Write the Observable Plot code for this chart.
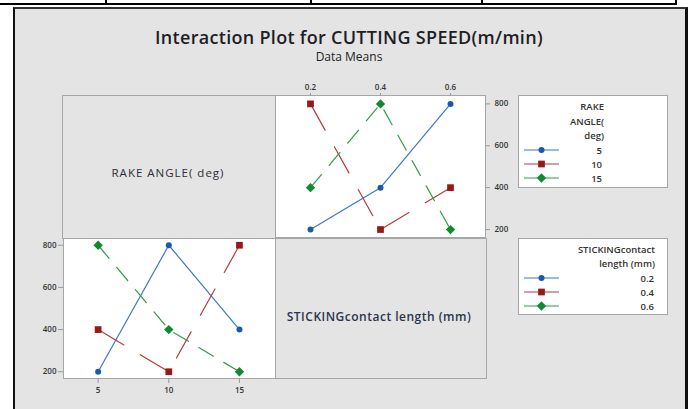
<!DOCTYPE html>
<html>
<head>
<meta charset="utf-8">
<script src="https://cdn.jsdelivr.net/npm/d3@7"></script>
<script src="https://cdn.jsdelivr.net/npm/@observablehq/plot@0.6"></script>
<style>
  html, body { margin: 0; padding: 0; background: white; }
  #root { position: relative; width: 689px; height: 409px; overflow: hidden; background: white; font-family: "Open Sans", "Noto Sans", sans-serif; color: #2e2e38; }
  .abs { position: absolute; }
  .hline { position: absolute; background: #000; }
  #panel { position: absolute; left: 13px; top: 7px; width: 670px; height: 410px; background: #e4e4e4;
           border-left: 2px solid #111; border-top: 2px solid #333; border-right: 3px solid #111; }
  .labelbox { position: absolute; background: #e4e4e4; border: 1px solid #a6a6a6; box-sizing: border-box; }
  .legend { position: absolute; background: #fff; border: 1px solid #a6a6a6; box-sizing: border-box; }
  .txt { position: absolute; white-space: nowrap; }
</style>
</head>
<body>
<div id="root">
  <div class="hline" style="left:0;top:3px;width:677px;height:2px"></div>
  <div class="hline" style="left:105px;top:0;width:2px;height:5px"></div>
  <div class="hline" style="left:310px;top:0;width:2px;height:5px"></div>
  <div class="hline" style="left:481px;top:0;width:2px;height:5px"></div>
  <div class="hline" style="left:675px;top:0;width:2px;height:5px"></div>
  <div id="panel"></div>
  <div class="txt" id="title" style="left:349px;top:25px;transform:translateX(-50%);font-size:18px;letter-spacing:0.3px;font-weight:600;color:#1e1e24"></div>
  <div class="txt" id="subtitle" style="left:349px;top:48px;transform:translateX(-50%);font-size:12px;color:#1e1e24"></div>
  <div class="labelbox" style="left:62px;top:95px;width:214px;height:144px"></div>
  <div class="labelbox" style="left:275px;top:238px;width:212px;height:141px"></div>
  <div class="txt" id="lab1" style="left:168px;top:165px;transform:translateX(-50%);font-size:11.5px;letter-spacing:1px;"></div>
  <div class="txt" id="lab2" style="left:379px;top:308px;transform:translateX(-50%);font-size:12px;letter-spacing:0.5px;font-weight:600;color:#2a3450"></div>
  <div id="tr" class="abs" style="left:262px;top:75px"></div>
  <div id="bl" class="abs" style="left:20px;top:228px"></div>
  <div class="legend" id="leg1" style="left:518px;top:95px;width:150px;height:93px"></div>
  <div class="legend" id="leg2" style="left:518px;top:238px;width:150px;height:77px"></div>
</div>
<script>
// ---- data ----
const titleText = "Interaction Plot for CUTTING SPEED(m/min)";
const subtitleText = "Data Means";
const rakeName = "RAKE ANGLE( deg)";
const stickName = "STICKINGcontact length (mm)";
const rakeLevels = [5, 10, 15];
const stickLevels = [0.2, 0.4, 0.6];
const rakeTickLabels = ["5", "10", "15"];
const stickTickLabels = ["0.2", "0.4", "0.6"];
const yTicks = [200, 400, 600, 800];
// means vs sticking contact length (0.2, 0.4, 0.6), one series per rake angle
const rake5 = [200, 400, 800];
const rake10 = [800, 200, 400];
const rake15 = [400, 800, 200];
// means vs rake angle (5, 10, 15), one series per sticking contact length
const stick02 = [200, 800, 400];
const stick04 = [400, 200, 800];
const stick06 = [800, 400, 200];

// ---- styles ----
const seriesStyle = [
  {line: "#3d78c2", mark: "#1c5aa8", symbol: "circle", r: 3, dash: null},
  {line: "#b43c3c", mark: "#981818", symbol: "square", r: 3.8, dash: "30,19"},
  {line: "#2f9e4a", mark: "#108a30", symbol: "diamond2", r: 4.2, dash: "17,12"}
];

document.getElementById("title").textContent = titleText;
document.getElementById("subtitle").textContent = subtitleText;
document.getElementById("lab1").textContent = rakeName;
document.getElementById("lab2").textContent = stickName;

function panelMarks(xs, seriesList) {
  const marks = [];
  seriesList.forEach((vals, i) => {
    const st = seriesStyle[i];
    const rows = xs.map((x, j) => ({x, y: vals[j]}));
    marks.push(Plot.line(rows, {x: "x", y: "y", stroke: st.line, strokeWidth: 1.2, strokeDasharray: st.dash ?? undefined}));
  });
  seriesList.forEach((vals, i) => {
    const st = seriesStyle[i];
    const rows = xs.map((x, j) => ({x, y: vals[j]}));
    marks.push(Plot.dot(rows, {x: "x", y: "y", symbol: () => st.symbol, fill: st.mark, stroke: "none", r: st.r}));
  });
  return marks;
}

const axisStyle = {fontFamily: "Open Sans, sans-serif", fontSize: "8px", fontWeight: 600, color: "#333", background: "transparent", overflow: "visible"};

// Top-right: x = sticking contact length, series = rake angle
const tr = Plot.plot({
  width: 260, height: 175,
  marginLeft: 13, marginTop: 20, marginRight: 37, marginBottom: 13,
  style: axisStyle,
  x: {domain: [0.1, 0.7], axis: null},
  y: {domain: [162, 840], axis: null},
  symbol: {type: "identity"},
  marks: [
    Plot.frame({fill: "white", stroke: "#a6a6a6"}),
    Plot.axisX({anchor: "top", ticks: stickLevels, tickFormat: (d, i) => stickTickLabels[i], tickSize: 3, tickPadding: 3, stroke: "#999", fill: "#333", label: null}),
    Plot.axisY({anchor: "right", ticks: yTicks, tickSize: 4, tickPadding: 5, stroke: "#999", fill: "#333", label: null}),
    ...panelMarks(stickLevels, [rake5, rake10, rake15])
  ]
});
document.getElementById("tr").appendChild(tr);

// Bottom-left: x = rake angle, series = sticking contact length
const bl = Plot.plot({
  width: 265, height: 175,
  marginLeft: 43, marginTop: 10, marginRight: 10, marginBottom: 25,
  style: axisStyle,
  x: {domain: [2.55, 17.55], axis: null},
  y: {domain: [168, 832], axis: null},
  symbol: {type: "identity"},
  marks: [
    Plot.frame({fill: "white", stroke: "#a6a6a6"}),
    Plot.axisX({anchor: "bottom", ticks: rakeLevels, tickFormat: (d, i) => rakeTickLabels[i], tickSize: 5, tickPadding: 4, stroke: "#999", fill: "#333", label: null}),
    Plot.axisY({anchor: "left", ticks: yTicks, tickSize: 5, tickPadding: 2, stroke: "#999", fill: "#333", label: null}),
    ...panelMarks(rakeLevels, [stick02, stick04, stick06])
  ]
});
document.getElementById("bl").appendChild(bl);

// Legends
function legend(el, titleLines, titleRight, titleTops, labels, labelRight, labelTops) {
  const ns = "http://www.w3.org/2000/svg";
  const box = document.getElementById(el);
  const bx = 518, by = parseFloat(box.style.top);
  titleLines.forEach((t, i) => {
    const d = document.createElement("div");
    d.className = "txt";
    d.style.cssText = `right:${bx + 150 - titleRight}px;top:${titleTops[i] - by - 7}px;font-size:9.5px;font-weight:600;color:#333;line-height:14px`;
    d.textContent = t;
    box.appendChild(d);
  });
  labels.forEach((t, i) => {
    const d = document.createElement("div");
    d.className = "txt";
    d.style.cssText = `right:${bx + 150 - labelRight}px;top:${labelTops[i] - by - 7}px;font-size:9.5px;font-weight:600;color:#333;line-height:14px`;
    d.textContent = t;
    box.appendChild(d);
    const st = seriesStyle[i];
    const svg = document.createElementNS(ns, "svg");
    svg.setAttribute("width", 40); svg.setAttribute("height", 12);
    svg.style.cssText = `position:absolute;left:3px;top:${labelTops[i] - by - 7}px;overflow:visible`;
    const ln = document.createElementNS(ns, "line");
    ln.setAttribute("x1", 2); ln.setAttribute("x2", 37); ln.setAttribute("y1", 6); ln.setAttribute("y2", 6);
    ln.setAttribute("stroke", st.line); ln.setAttribute("stroke-width", 1.2);
    svg.appendChild(ln);
    const p = document.createElementNS(ns, "path");
    const sym = {circle: d3.symbolCircle, square: d3.symbolSquare, diamond2: d3.symbolDiamond2}[st.symbol];
    p.setAttribute("d", d3.symbol(sym, Math.PI * st.r * st.r)());
    p.setAttribute("transform", "translate(19.5,6)");
    p.setAttribute("fill", st.mark);
    svg.appendChild(p);
    box.appendChild(svg);
  });
}
legend("leg1", ["RAKE", "ANGLE(", "deg)"], 605, [106, 121, 135], rakeTickLabels, 603, [150, 164, 178]);
legend("leg2", ["STICKINGcontact", "length (mm)"], 656, [249, 263], stickTickLabels, 655, [278, 292, 306]);
</script>
</body>
</html>
